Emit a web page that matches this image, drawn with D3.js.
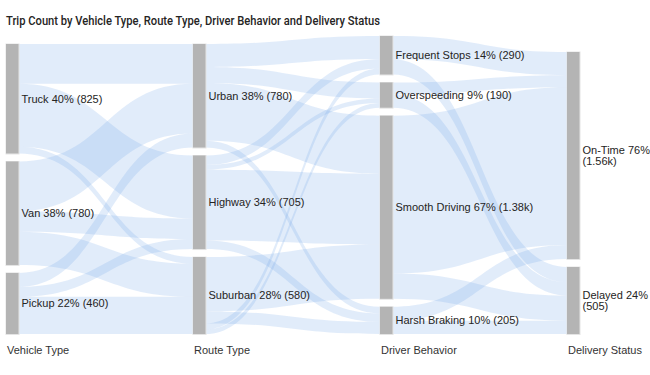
<!DOCTYPE html>
<html>
<head>
<meta charset="utf-8">
<script src="https://cdn.jsdelivr.net/npm/d3@7"></script>
<style>
  html, body { margin: 0; padding: 0; background: #fff; }
  svg { display: block; }
</style>
</head>
<body>
<svg id="chart" width="650" height="375"></svg>
<script>
// ---- data ----
const title = "Trip Count by Vehicle Type, Route Type, Driver Behavior and Delivery Status";
const stageNames = ["Vehicle Type", "Route Type", "Driver Behavior", "Delivery Status"];
const vehicleTypes = ["Truck", "Van", "Pickup"];
const routeTypes = ["Urban", "Highway", "Suburban"];
const behaviors = ["Frequent Stops", "Overspeeding", "Smooth Driving", "Harsh Braking"];
const statuses = ["On-Time", "Delayed"];
// rows = source node, columns = target node
const vehicleToRoute = [
  [300, 475, 50],
  [375, 155, 250],
  [105, 75, 280]
];
const routeToBehavior = [
  [173, 120, 437, 50],
  [72, 35, 533, 65],
  [45, 35, 410, 90]
];
const behaviorToStatus = [
  [175, 115],
  [90, 100],
  [1190, 190],
  [105, 100]
];
// order in which a node's outgoing links leave it (where it differs from target order)
const outgoingOrder = { "Suburban": ["Smooth Driving", "Harsh Braking", "Frequent Stops", "Overspeeding"] };

// ---- layout ----
const W = 650, H = 375;
const svg = d3.select("#chart");
const stages = [vehicleTypes, routeTypes, behaviors, statuses];
const matrices = [vehicleToRoute, routeToBehavior, behaviorToStatus];

const nodeW = 12.5, gap = 8, topY = 36, bottomY = 334;
const total = d3.sum(vehicleToRoute.flat());
const maxN = d3.max(stages, s => s.length);
const x = d3.scaleLinear().domain([0, 3]).range([6, 567]);
const h = d3.scaleLinear().domain([0, total]).range([0, (bottomY - topY) - (maxN - 1) * gap]);

const nodes = stages.map((names, c) => names.map((name, i) => {
  let v;
  if (c < 3) v = d3.sum(matrices[c][i]);
  else v = d3.sum(matrices[2], row => row[i]);
  return { name, c, i, value: v };
}));
nodes.forEach((col, c) => {
  const colH = h(d3.sum(col, d => d.value)) + (col.length - 1) * gap;
  let y = bottomY - colH;
  col.forEach(n => {
    n.x0 = x(c); n.x1 = x(c) + nodeW;
    n.y0 = y; n.y1 = y + h(n.value);
    y = n.y1 + gap;
    n.outY = n.y0; n.inY = n.y0;
  });
});

const links = [];
matrices.forEach((m, s) => {
  m.forEach((row, i) => row.forEach((v, j) => {
    links.push({ s, i, j, value: v, source: nodes[s][i], target: nodes[s + 1][j] });
  }));
});
const findLink = (s, i, j) => links.find(L => L.s === s && L.i === i && L.j === j);
matrices.forEach((m, s) => {
  nodes[s].forEach((n, i) => {
    let order = d3.range(m[i].length);
    if (outgoingOrder[n.name]) order = outgoingOrder[n.name].map(nm => stages[s + 1].indexOf(nm));
    order.forEach(j => {
      const l = findLink(s, i, j);
      l.sy0 = n.outY; l.sy1 = n.outY + h(l.value); n.outY = l.sy1;
    });
  });
  nodes[s + 1].forEach((n, j) => {
    m.forEach((row, i) => {
      const l = findLink(s, i, j);
      l.ty0 = n.inY; l.ty1 = n.inY + h(l.value); n.inY = l.ty1;
    });
  });
});

function ribbon(l) {
  const x0 = l.source.x1, x1 = l.target.x0, xm = (x0 + x1) / 2;
  const p = d3.path();
  p.moveTo(x0, l.sy0);
  p.bezierCurveTo(xm, l.sy0, xm, l.ty0, x1, l.ty0);
  p.lineTo(x1, l.ty1);
  p.bezierCurveTo(xm, l.ty1, xm, l.sy1, x0, l.sy1);
  p.closePath();
  return p.toString();
}

svg.append("g")
  .selectAll("path")
  .data(links.filter(l => l.value > 0))
  .join("path")
  .attr("d", ribbon)
  .attr("fill", "rgb(118,170,230)")
  .attr("fill-opacity", 0.22);

const allNodes = nodes.flat();
const ng = svg.append("g");
ng.selectAll("rect.sh")
  .data(allNodes)
  .join("rect")
  .attr("class", "sh")
  .attr("x", d => d.x0 - 0.5)
  .attr("y", d => d.y0 - 0.5)
  .attr("width", nodeW + 1.5)
  .attr("height", d => d.y1 - d.y0 + 1.5)
  .attr("fill", "#e4e4e4");
ng.selectAll("rect.nd")
  .data(allNodes)
  .join("rect")
  .attr("class", "nd")
  .attr("x", d => d.x0)
  .attr("y", d => d.y0)
  .attr("width", nodeW)
  .attr("height", d => d.y1 - d.y0)
  .attr("fill", "#b4b4b4");

const fmtVal = v => v >= 1000 ? (v / 1000).toFixed(2) + "k" : String(v);
const labelFont = "'Liberation Sans Narrow', 'Arial Narrow', 'Liberation Sans', Arial, sans-serif";

const lg = svg.append("g")
  .attr("font-family", labelFont)
  .attr("font-size", 11)
  .attr("fill", "#252423");
allNodes.forEach(n => {
  const pct = Math.round(n.value / total * 100) + "%";
  const line1 = n.name + " " + pct;
  const line2 = "(" + fmtVal(n.value) + ")";
  const tx = n.x1 + 3;
  const cy = (n.y0 + n.y1) / 2;
  const t = lg.append("text").attr("x", tx).attr("y", cy).attr("dy", "0.35em").text(line1 + " " + line2);
  const avail = W - tx - 4;
  if (t.node().getComputedTextLength() > avail) {
    t.remove();
    lg.append("text").attr("x", tx).attr("y", cy - 5.5).attr("dy", "0.35em").text(line1);
    lg.append("text").attr("x", tx).attr("y", cy + 5.5).attr("dy", "0.35em").text(line2);
  }
});

svg.append("g")
  .attr("font-family", labelFont)
  .attr("font-size", 11)
  .attr("fill", "#333")
  .selectAll("text")
  .data(stageNames)
  .join("text")
  .attr("x", (d, c) => x(c) + 1)
  .attr("y", 354)
  .text(d => d);

svg.append("text")
  .attr("x", 6)
  .attr("y", 25)
  .attr("font-family", "Roboto, 'Open Sans', sans-serif")
  .attr("font-size", 12)
  .attr("font-weight", 500)
  .attr("fill", "#252423")
  .attr("textLength", 374)
  .attr("lengthAdjust", "spacingAndGlyphs")
  .text(title);
</script>
</body>
</html>
